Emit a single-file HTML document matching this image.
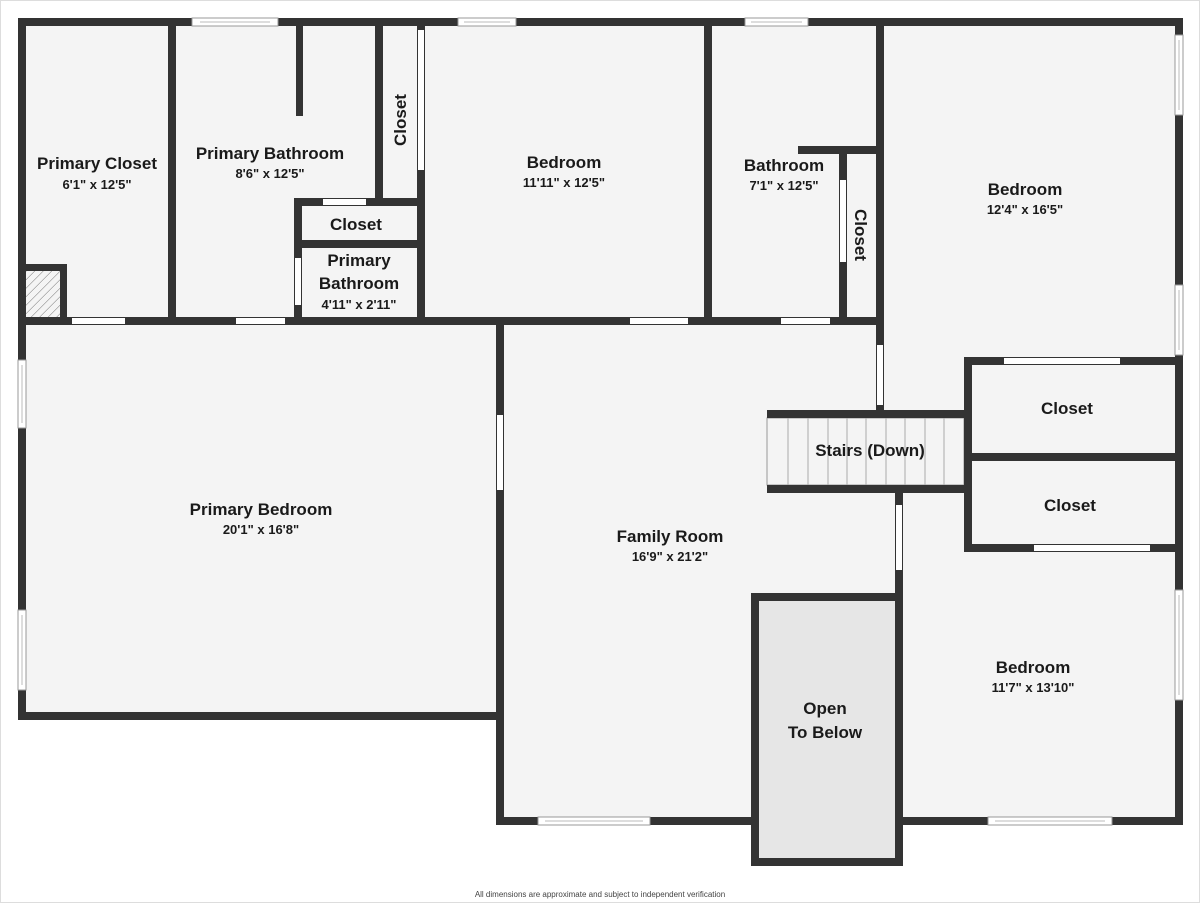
<!DOCTYPE html>
<html><head><meta charset="utf-8"><style>
html,body{margin:0;padding:0;background:#fff}
svg{display:block}
text{font-family:"Liberation Sans",sans-serif;fill:#1a1a1a;text-anchor:middle}
.n{font-size:17px;font-weight:bold}
.d{font-size:13px;font-weight:bold}
</style></head><body>
<svg width="1200" height="903" viewBox="0 0 1200 903" xmlns="http://www.w3.org/2000/svg">
<rect x="0.5" y="0.5" width="1199" height="902" fill="#fff" stroke="#ddd"/>
<!-- floor fills -->
<g fill="#f4f4f4">
<rect x="22" y="22" width="1157" height="299"/>
<rect x="22" y="321" width="478" height="395"/>
<rect x="500" y="321" width="679" height="500"/>
<rect x="755" y="597" width="144" height="265" fill="#e6e6e6"/>
</g>
<!-- hatched box -->
<defs><pattern id="h" width="6" height="6" patternUnits="userSpaceOnUse" patternTransform="rotate(45)"><rect width="6" height="6" fill="#f4f4f4"/><line x1="0" y1="0" x2="0" y2="6" stroke="#777" stroke-width="1"/></pattern></defs>
<rect x="26" y="271" width="34" height="46" fill="url(#h)"/>
<!-- stairs -->
<rect x="767" y="418" width="197" height="67" fill="#f4f4f4" stroke="#999" stroke-width="1"/>
<g stroke="#aaa" stroke-width="1">
<line x1="788" y1="418" x2="788" y2="485"/><line x1="808" y1="418" x2="808" y2="485"/><line x1="828" y1="418" x2="828" y2="485"/><line x1="847" y1="418" x2="847" y2="485"/><line x1="866" y1="418" x2="866" y2="485"/><line x1="886" y1="418" x2="886" y2="485"/><line x1="905" y1="418" x2="905" y2="485"/><line x1="925" y1="418" x2="925" y2="485"/><line x1="944" y1="418" x2="944" y2="485"/>
</g>
<!-- walls -->
<g fill="#333">
<rect x="18" y="18" width="1165" height="8"/>
<rect x="18" y="18" width="8" height="702"/>
<rect x="1175" y="18" width="8" height="807"/>
<rect x="18" y="712" width="482" height="8"/>
<rect x="496" y="317" width="8" height="508"/>
<rect x="496" y="817" width="259" height="8"/>
<rect x="751" y="593" width="8" height="273"/>
<rect x="895" y="593" width="8" height="273"/>
<rect x="751" y="858" width="152" height="8"/>
<rect x="751" y="593" width="152" height="8"/>
<rect x="895" y="817" width="288" height="8"/>
<rect x="18" y="317" width="866" height="8"/>
<rect x="168" y="18" width="8" height="307"/>
<rect x="296" y="18" width="7" height="98"/>
<rect x="375" y="18" width="8" height="184"/>
<rect x="417" y="18" width="8" height="307"/>
<rect x="294" y="198" width="8" height="127"/>
<rect x="294" y="198" width="131" height="8"/>
<rect x="294" y="240" width="131" height="8"/>
<rect x="60" y="264" width="7" height="61"/>
<rect x="18" y="264" width="49" height="7"/>
<rect x="704" y="18" width="8" height="307"/>
<rect x="839" y="146" width="8" height="179"/>
<rect x="798" y="146" width="86" height="8"/>
<rect x="876" y="18" width="8" height="400"/>
<rect x="767" y="410" width="201" height="8"/>
<rect x="767" y="485" width="201" height="8"/>
<rect x="895" y="485" width="8" height="112"/>
<rect x="964" y="357" width="8" height="195"/>
<rect x="964" y="357" width="219" height="8"/>
<rect x="964" y="453" width="219" height="8"/>
<rect x="964" y="544" width="219" height="8"/>
</g>
<!-- openings -->
<g fill="#fff">
<rect x="72" y="318" width="53" height="6"/>
<rect x="236" y="318" width="49" height="6"/>
<rect x="630" y="318" width="58" height="6"/>
<rect x="781" y="318" width="49" height="6"/>
<rect x="418" y="30" width="6" height="140"/>
<rect x="323" y="199" width="43" height="6"/>
<rect x="295" y="258" width="6" height="47"/>
<rect x="840" y="180" width="6" height="82"/>
<rect x="877" y="345" width="6" height="60"/>
<rect x="896" y="505" width="6" height="65"/>
<rect x="1004" y="358" width="116" height="6"/>
<rect x="1034" y="545" width="116" height="6"/>
<rect x="497" y="415" width="6" height="75"/>
</g>
<!-- windows -->
<g fill="#fff" stroke="#999" stroke-width="1">
<rect x="192" y="18" width="86" height="8"/>
<rect x="458" y="18" width="58" height="8"/>
<rect x="745" y="18" width="63" height="8"/>
<rect x="1175" y="35" width="8" height="80"/>
<rect x="1175" y="285" width="8" height="70"/>
<rect x="1175" y="590" width="8" height="110"/>
<rect x="18" y="360" width="8" height="68"/>
<rect x="18" y="610" width="8" height="80"/>
<rect x="538" y="817" width="112" height="8"/>
<rect x="988" y="817" width="124" height="8"/>
</g>
<g stroke="#bbb" stroke-width="1">
<line x1="200" y1="22" x2="270" y2="22"/><line x1="464" y1="22" x2="510" y2="22"/><line x1="751" y1="22" x2="802" y2="22"/>
<line x1="1179" y1="40" x2="1179" y2="110"/><line x1="1179" y1="290" x2="1179" y2="350"/><line x1="1179" y1="595" x2="1179" y2="695"/>
<line x1="22" y1="365" x2="22" y2="423"/><line x1="22" y1="615" x2="22" y2="685"/>
<line x1="545" y1="821" x2="643" y2="821"/><line x1="995" y1="821" x2="1105" y2="821"/>
</g>
<!-- labels -->
<text class="n" x="97" y="169">Primary Closet</text><text class="d" x="97" y="189">6'1" x 12'5"</text>
<text class="n" x="270" y="159">Primary Bathroom</text><text class="d" x="270" y="178">8'6" x 12'5"</text>
<text class="n" x="400" y="120" transform="rotate(-90 400 120)" dy="6">Closet</text>
<text class="n" x="356" y="230">Closet</text>
<text class="n" x="359" y="266">Primary</text><text class="n" x="359" y="289">Bathroom</text><text class="d" x="359" y="309">4'11" x 2'11"</text>
<text class="n" x="564" y="168">Bedroom</text><text class="d" x="564" y="187">11'11" x 12'5"</text>
<text class="n" x="784" y="171">Bathroom</text><text class="d" x="784" y="190">7'1" x 12'5"</text>
<text class="n" x="861" y="235" transform="rotate(90 861 235)" dy="6">Closet</text>
<text class="n" x="1025" y="195">Bedroom</text><text class="d" x="1025" y="214">12'4" x 16'5"</text>
<text class="n" x="1067" y="414">Closet</text>
<text class="n" x="870" y="456">Stairs (Down)</text>
<text class="n" x="1070" y="511">Closet</text>
<text class="n" x="261" y="515">Primary Bedroom</text><text class="d" x="261" y="534">20'1" x 16'8"</text>
<text class="n" x="670" y="542">Family Room</text><text class="d" x="670" y="561">16'9" x 21'2"</text>
<text class="n" x="825" y="714">Open</text><text class="n" x="825" y="738">To Below</text>
<text class="n" x="1033" y="673">Bedroom</text><text class="d" x="1033" y="692">11'7" x 13'10"</text>
<text x="600" y="897" style="font-size:8px;fill:#444">All dimensions are approximate and subject to independent verification</text>
</svg>
</body></html>
